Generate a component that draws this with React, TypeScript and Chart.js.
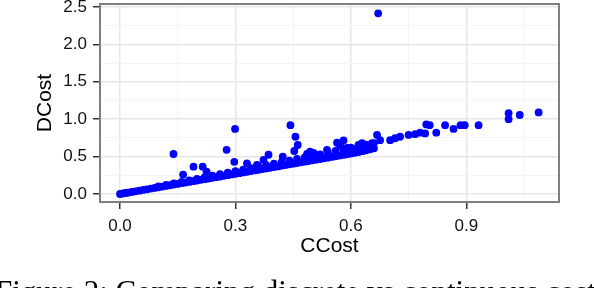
import React, { useEffect, useRef } from "react";
import { Chart, registerables } from "chart.js";

Chart.register(...registerables);

// Main band (lower row)
const bandC = [0, 0.005, 0.01, 0.015, 0.02, 0.03, 0.04, 0.05, 0.06, 0.07, 0.08, 0.09, 0.1, 0.11, 0.12, 0.13, 0.14, 0.15, 0.16, 0.17, 0.18, 0.19, 0.2, 0.21, 0.22, 0.23, 0.24, 0.25, 0.26, 0.27, 0.28, 0.29, 0.3, 0.31, 0.32, 0.33, 0.34, 0.35, 0.36, 0.37, 0.38, 0.39, 0.4, 0.41, 0.42, 0.43, 0.44, 0.45, 0.46, 0.47, 0.48, 0.49, 0.5, 0.51, 0.52, 0.53, 0.54, 0.55, 0.56, 0.57, 0.58, 0.59, 0.6, 0.61, 0.62, 0.63, 0.64, 0.65, 0.66];
const bandD = [0, 0.005, 0.009, 0.014, 0.018, 0.027, 0.036, 0.045, 0.054, 0.063, 0.072, 0.081, 0.09, 0.099, 0.108, 0.117, 0.126, 0.135, 0.144, 0.153, 0.162, 0.171, 0.18, 0.189, 0.198, 0.207, 0.216, 0.225, 0.234, 0.243, 0.252, 0.261, 0.27, 0.279, 0.288, 0.297, 0.306, 0.315, 0.324, 0.333, 0.342, 0.351, 0.36, 0.369, 0.378, 0.387, 0.396, 0.405, 0.414, 0.423, 0.432, 0.441, 0.45, 0.459, 0.468, 0.477, 0.486, 0.495, 0.504, 0.513, 0.522, 0.531, 0.54, 0.55, 0.56, 0.572, 0.585, 0.597, 0.61];

// Main band (upper row)
const upperC = [0.1, 0.12, 0.14, 0.16, 0.18, 0.2, 0.22, 0.24, 0.26, 0.28, 0.3, 0.32, 0.34, 0.36, 0.38, 0.4, 0.42, 0.44, 0.46, 0.48, 0.5, 0.52, 0.54, 0.56, 0.58, 0.6, 0.62, 0.64, 0.66];
const upperD = [0.1, 0.12, 0.14, 0.161, 0.182, 0.203, 0.224, 0.245, 0.265, 0.286, 0.306, 0.326, 0.346, 0.366, 0.386, 0.406, 0.427, 0.447, 0.468, 0.489, 0.51, 0.531, 0.552, 0.575, 0.597, 0.62, 0.64, 0.66, 0.68];

// Scattered points above the band and the upper tail
const outlierC = [0.139, 0.164, 0.191, 0.215, 0.225, 0.277, 0.299, 0.297, 0.33, 0.356, 0.373, 0.386, 0.423, 0.453, 0.462, 0.456, 0.443, 0.486, 0.494, 0.503, 0.538, 0.564, 0.581, 0.572, 0.59, 0.607, 0.62, 0.629, 0.637, 0.655, 0.668, 0.671, 0.676, 0.702, 0.715, 0.728, 0.75, 0.767, 0.78, 0.793, 0.796, 0.805, 0.822, 0.845, 0.867, 0.885, 0.896, 0.932, 1.01, 1.01, 1.039, 1.088];
const outlierD = [0.535, 0.26, 0.365, 0.365, 0.3, 0.59, 0.87, 0.43, 0.41, 0.39, 0.455, 0.525, 0.5, 0.575, 0.655, 0.765, 0.92, 0.535, 0.565, 0.55, 0.59, 0.685, 0.715, 0.655, 0.615, 0.6, 0.655, 0.68, 0.655, 0.68, 0.79, 2.416, 0.72, 0.72, 0.745, 0.765, 0.79, 0.8, 0.82, 0.81, 0.93, 0.92, 0.82, 0.92, 0.87, 0.92, 0.92, 0.92, 1.08, 1.0, 1.056, 1.09];

const xMajor = [0, 0.3, 0.6, 0.9];
const xGrid = [0, 0.15, 0.3, 0.45, 0.6, 0.75, 0.9, 1.05];
const yMajor = [0, 0.5, 1.0, 1.5, 2.0, 2.5];
const yGrid = [0, 0.25, 0.5, 0.75, 1.0, 1.25, 1.5, 1.75, 2.0, 2.25, 2.5];

const xTitle = "CCost";
const yTitle = "DCost";
const caption = "Figure 2: Comparing discrete vs continuous costs";

const isIn = (arr: number[], v: number) => arr.some((m) => Math.abs(m - v) < 1e-6);

export default function App() {
  const canvasRef = useRef<HTMLCanvasElement | null>(null);

  useEffect(() => {
    if (!canvasRef.current) return;
    const points: { x: number; y: number }[] = [];
    bandC.forEach((c, i) => points.push({ x: c, y: bandD[i] }));
    upperC.forEach((c, i) => points.push({ x: c, y: upperD[i] }));
    outlierC.forEach((c, i) => points.push({ x: c, y: outlierD[i] }));

    const panelBorder = {
      id: "panelBorder",
      afterDatasetsDraw(chart: any) {
        const { ctx, chartArea } = chart;
        ctx.save();
        ctx.strokeStyle = "#7f7f7f";
        ctx.lineWidth = 2;
        ctx.strokeRect(chartArea.left, chartArea.top, chartArea.right - chartArea.left, chartArea.bottom - chartArea.top);
        ctx.restore();
      },
    };

    const font = { family: "'Liberation Sans', Arial, sans-serif", size: 17 };
    const titleFont = { family: "'Liberation Sans', Arial, sans-serif", size: 21 };

    const chart = new Chart(canvasRef.current, {
      type: "scatter",
      data: {
        datasets: [
          {
            data: points,
            backgroundColor: "#0000ff",
            borderWidth: 0,
            pointRadius: 3.9,
            pointHoverRadius: 3.9,
          },
        ],
      },
      options: {
        responsive: false,
        animation: false,
        events: [],
        layout: { padding: { top: 4, right: 35, left: 0, bottom: 0 } },
        plugins: { legend: { display: false }, tooltip: { enabled: false } },
        scales: {
          x: {
            type: "linear",
            min: -0.052,
            max: 1.141,
            afterBuildTicks: (axis: any) => {
              axis.ticks = xGrid.map((v) => ({ value: v }));
            },
            afterFit: (scale: any) => {
              scale.height = 86;
              scale.paddingLeft = 0;
              scale.paddingRight = 0;
            },
            border: { display: false },
            grid: {
              color: (ctx: any) => (isIn(xMajor, ctx.tick?.value) ? "#e6e6e6" : "#f4f4f4"),
              lineWidth: (ctx: any) => (isIn(xMajor, ctx.tick?.value) ? 1.5 : 1),
              tickColor: (ctx: any) => (isIn(xMajor, ctx.tick?.value) ? "#333333" : "rgba(0,0,0,0)"),
              tickLength: 7,
              tickWidth: 1.5,
            },
            ticks: {
              autoSkip: false,
              maxRotation: 0,
              padding: 7,
              color: "#111111",
              font,
              callback: (v: any) => (isIn(xMajor, Number(v)) ? Number(v).toFixed(1) : ""),
            },
            title: {
              display: true,
              text: xTitle,
              color: "#000000",
              font: titleFont,
              padding: { top: 0, bottom: 29 },
            },
          },
          y: {
            type: "linear",
            min: -0.107,
            max: 2.54,
            afterBuildTicks: (axis: any) => {
              axis.ticks = yGrid.map((v) => ({ value: v }));
            },
            afterFit: (scale: any) => {
              scale.width = 100;
              scale.paddingTop = 0;
              scale.paddingBottom = 0;
            },
            border: { display: false },
            grid: {
              color: (ctx: any) => (isIn(yMajor, ctx.tick?.value) ? "#e6e6e6" : "#f4f4f4"),
              lineWidth: (ctx: any) => (isIn(yMajor, ctx.tick?.value) ? 1.5 : 1),
              tickColor: (ctx: any) => (isIn(yMajor, ctx.tick?.value) ? "#333333" : "rgba(0,0,0,0)"),
              tickLength: 7,
              tickWidth: 1.5,
            },
            ticks: {
              autoSkip: false,
              padding: 6,
              color: "#111111",
              font,
              callback: (v: any) => (isIn(yMajor, Number(v)) ? Number(v).toFixed(1) : ""),
            },
            title: {
              display: true,
              text: yTitle,
              color: "#000000",
              font: titleFont,
              padding: { top: 33, bottom: 0 },
            },
          },
        },
      },
      plugins: [panelBorder],
    } as any);

    return () => chart.destroy();
  }, []);

  return (
    <div style={{ position: "fixed", left: 0, top: 0, width: 594, height: 288, overflow: "hidden", background: "#ffffff" }}>
      <canvas ref={canvasRef} width={594} height={288} style={{ position: "absolute", left: 0, top: 0, width: 594, height: 288 }} />
      <div
        style={{
          position: "absolute",
          left: -5,
          top: 276,
          fontFamily: "'Liberation Serif', 'Times New Roman', serif",
          fontSize: 31,
          lineHeight: "31px",
          whiteSpace: "nowrap",
          color: "#000000",
        }}
      >
        {caption}
      </div>
    </div>
  );
}
